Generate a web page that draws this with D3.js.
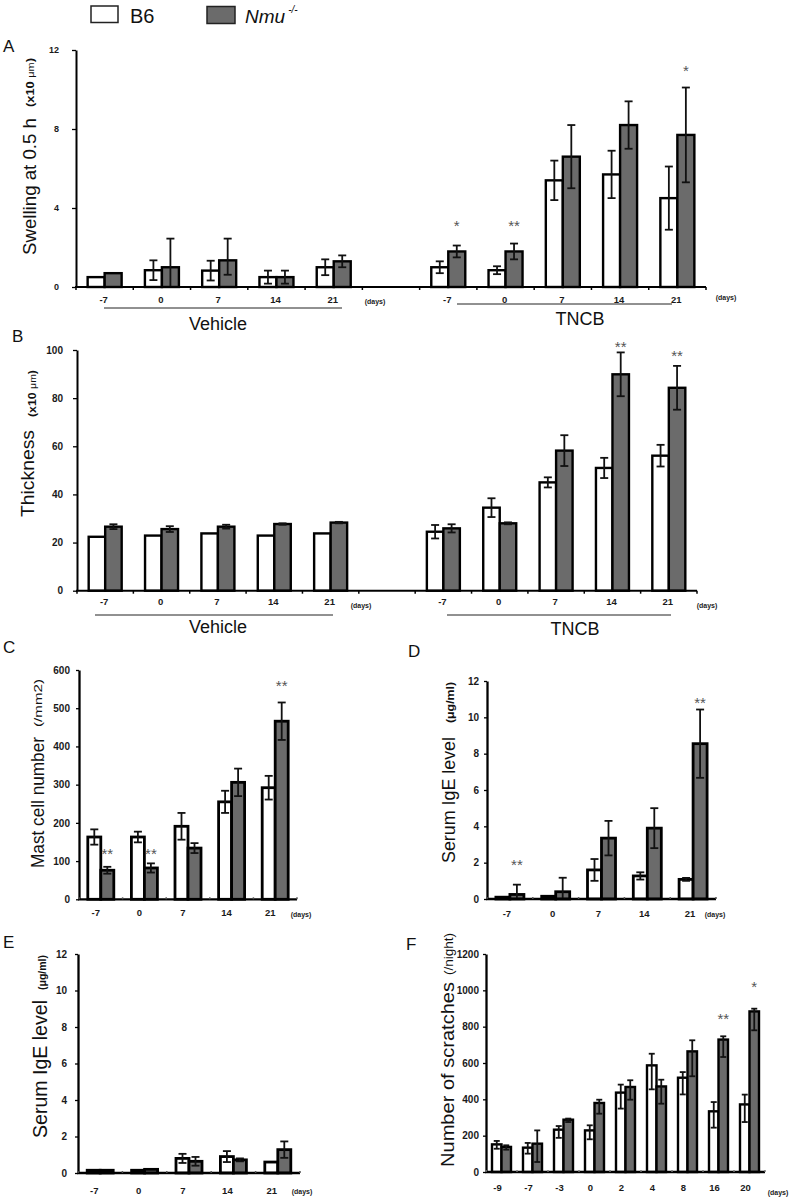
<!DOCTYPE html>
<html><head><meta charset="utf-8">
<script src="https://cdn.jsdelivr.net/npm/d3@7"></script>
<style>
body{margin:0;background:#fff;}
svg{display:block;font-family:"Liberation Sans",Arial,Helvetica,sans-serif;}
</style></head><body>
<svg id="chart" width="799" height="1199"></svg>
<script>
// ---------------- DATA ----------------
const seriesNames = ["B6", "Nmu"];
const daysAB = ["-7", "0", "7", "14", "21"];
const groupsAB = ["Vehicle", "TNCB"];
const daysCDE = ["-7", "0", "7", "14", "21"];
const daysF = ["-9", "-7", "-3", "0", "2", "4", "8", "16", "20"];

// A: swelling at 0.5 h (x10 um); first 5 = Vehicle, last 5 = TNCB
const swellB6     = [0.5, 0.85, 0.83, 0.5, 1.0,   1.0, 0.85, 5.4, 5.7, 4.5];
const swellB6Err  = [0,   0.5,  0.5,  0.33, 0.4,  0.3, 0.2,  1.0, 1.2, 1.6];
const swellNmu    = [0.7, 1.0,  1.35, 0.5, 1.3,   1.8, 1.8,  6.6, 8.2, 7.7];
const swellNmuErr = [0,   1.45, [0.73, 1.1], 0.33, 0.3,  0.3, 0.4,  1.6, 1.2, 2.4];
const ticksA = [0, 4, 8, 12];
const sigA = [{bar: 5, text: "*", y: 3.26}, {bar: 6, text: "**", y: 3.26}, {bar: 9, text: "*", y: 11.14}];

// B: thickness (x10 um)
const thickB6     = [22.4, 22.9, 23.8, 22.9, 23.8,  24.5, 34.5, 45.0, 51.0, 56.1];
const thickB6Err  = [0,    0,    0,    0,    0,     2.8,  3.9,  2.1,  4.2,  4.5];
const thickNmu    = [26.6, 25.6, 26.6, 27.7, 28.3,  25.9, 28.0, 58.2, 89.9, 84.3];
const thickNmuErr = [1.0,  1.2,  0.8,  0.3,  0.3,   1.7,  0.4,  6.4,  9.1,  9.1];
const ticksB = [0, 20, 40, 60, 80, 100];
const sigB = [{bar: 8, text: "**", y: 102.9}, {bar: 9, text: "**", y: 98.9}];

// C: mast cell number (/mm2)
const mastB6     = [163, 163, 191, 255, 292];
const mastB6Err  = [20, 14, 35, 29, 31];
const mastNmu    = [76, 82, 134, 306, 466];
const mastNmuErr = [9, 12, 13, 36, 49];
const ticksC = [0, 100, 200, 300, 400, 500, 600];
const sigC = [{bar: 0, text: "**", y: 129}, {bar: 1, text: "**", y: 129}, {bar: 4, text: "**", y: 567}];

// D: serum IgE (ug/ml), TNCB
const igeDB6     = [0.1, 0.15, 1.6, 1.27, 1.08];
const igeDB6Err  = [0, 0, 0.6, 0.2, 0.08];
const igeDNmu    = [0.25, 0.4, 3.35, 3.9, 8.55];
const igeDNmuErr = [0.54, 0.77, 0.95, 1.1, 1.88];
const ticksDE = [0, 2, 4, 6, 8, 10, 12];
const sigD = [{bar: 0, text: "**", y: 2.1}, {bar: 4, text: "**", y: 11.0}];

// E: serum IgE (ug/ml), vehicle
const igeEB6     = [0.15, 0.15, 0.8, 0.9, 0.6];
const igeEB6Err  = [0, 0, 0.25, 0.3, 0];
const igeENmu    = [0.15, 0.2, 0.64, 0.72, 1.28];
const igeENmuErr = [0, 0, 0.24, 0.08, 0.45];

// F: number of scratches (/night); errors as [down, up]
const scrB6      = [152, 134, 233, 229, 437, 587, 519, 334, 372];
const scrB6Err   = [[24,19],[33,26],[45,20],[49,28],[88,44],[132,64],[92,31],[90,51],[97,54]];
const scrNmu     = [138, 156, 288, 380, 468, 471, 664, 729, 884];
const scrNmuErr  = [[15,9],[101,73],[13,6],[59,18],[70,37],[95,37],[137,61],[96,18],[104,15]];
const ticksF = [0, 200, 400, 600, 800, 1000, 1200];
const sigF = [{bar: 7, text: "**", y: 864}, {bar: 8, text: "*", y: 1040}];

// ---------------- DRAWING ----------------
const FONT = '"Liberation Sans", Arial, Helvetica, sans-serif';
const GRAY = "#6b6b6b";
const svg = d3.select("#chart");

function bounds(v, e) {
  let lo, hi;
  if (Array.isArray(e)) { lo = v - e[0]; hi = v + e[1]; }
  else { lo = v - e; hi = v + e; }
  return [Math.max(0, lo), hi, lo < 0];
}

function rotText(x, y, len) {
  return svg.append("text").attr("transform", `translate(${x},${y}) rotate(-90)`)
    .attr("fill", "#111").attr("textLength", len).attr("lengthAdjust", "spacingAndGlyphs");
}

function drawPanel(p) {
  const g = svg.append("g");
  const xs = d3.scaleBand().domain(d3.range(p.nSlots)).range([p.x0, p.x1]).padding(0);
  const ys = d3.scaleLinear().domain([0, p.max]).range([p.y0, p.y1]);
  const slots = p.slots || d3.range(p.b6.length);
  const cx = i => xs(slots[i]) + xs.bandwidth() / 2;

  // bars
  const bars = [];
  p.b6.forEach((v, i) => bars.push({i, v, e: p.b6e[i], x: cx(i) - p.barW, fill: "#fff"}));
  p.nmu.forEach((v, i) => bars.push({i, v, e: p.nmue[i], x: cx(i), fill: GRAY}));
  g.selectAll("rect.bar").data(bars).join("rect")
    .attr("class", "bar")
    .attr("x", d => d.x).attr("width", p.barW)
    .attr("y", d => ys(d.v)).attr("height", d => ys(0) - ys(d.v))
    .attr("fill", d => d.fill).attr("stroke", "#000").attr("stroke-width", p.barStroke);

  // error bars
  const cap = p.cap || 4;
  const ew = 1.8;
  bars.filter(d => (Array.isArray(d.e) ? d.e[0] + d.e[1] : d.e) > 0).forEach(d => {
    const [lo, hi, clipped] = bounds(d.v, d.e);
    const x = d.x + p.barW / 2;
    g.append("line").attr("x1", x).attr("x2", x).attr("y1", ys(lo)).attr("y2", ys(hi))
      .attr("stroke", "#111").attr("stroke-width", ew);
    g.append("line").attr("x1", x - cap).attr("x2", x + cap).attr("y1", ys(hi)).attr("y2", ys(hi))
      .attr("stroke", "#111").attr("stroke-width", ew);
    if (!clipped) g.append("line").attr("x1", x - cap).attr("x2", x + cap).attr("y1", ys(lo)).attr("y2", ys(lo))
      .attr("stroke", "#111").attr("stroke-width", ew);
  });

  // y axis
  const ya = g.append("g").attr("transform", `translate(${p.x0},0)`)
    .call(d3.axisLeft(ys).tickValues(p.ticks).tickFormat(d3.format("d"))
      .tickSize(p.tickLen || 4).tickSizeOuter(0).tickPadding(p.tickPad));
  ya.attr("font-family", FONT);
  ya.select(".domain").attr("stroke", "#000").attr("stroke-width", p.axisW);
  ya.selectAll(".tick line").attr("stroke", "#000").attr("stroke-width", 1.3);
  ya.selectAll(".tick text").attr("font-size", p.tickFont).attr("font-weight", "bold").attr("fill", "#1a1a1a");

  // x axis
  g.append("line").attr("x1", p.x0 - 1).attr("x2", p.x1).attr("y1", p.y0).attr("y2", p.y0)
    .attr("stroke", "#000").attr("stroke-width", p.axisW);
  g.selectAll("line.xt").data(d3.range(p.nSlots + 1)).join("line").attr("class", "xt")
    .attr("x1", i => p.x0 + i * xs.step()).attr("x2", i => p.x0 + i * xs.step())
    .attr("y1", p.y0).attr("y2", p.y0 + p.xTick)
    .attr("stroke", p.xTickColor || "#000").attr("stroke-width", 1.5);

  // x labels
  g.selectAll("text.xl").data(p.labels).join("text").attr("class", "xl")
    .attr("x", (d, i) => cx(i) + p.labelOff).attr("y", p.xLabelY)
    .attr("text-anchor", "middle").attr("font-size", p.xFont || 9.5).attr("font-weight", "bold").attr("fill", "#1a1a1a")
    .text(d => d);

  // significance
  g.selectAll("text.sig").data(p.sig).join("text").attr("class", "sig")
    .attr("x", d => cx(d.bar) + p.barW / 2).attr("y", d => ys(d.y)).attr("dy", "0.59em")
    .attr("text-anchor", "middle").attr("font-size", 15).attr("fill", "#555")
    .text(d => d.text);

  // days
  (p.days || []).forEach(d => {
    g.append("text").attr("x", d[0]).attr("y", d[1]).attr("text-anchor", "middle")
      .attr("font-size", 7).attr("font-weight", "bold").attr("fill", "#222").text("(days)");
  });

  // y title: main part and unit part
  const T = p.title;
  rotText(T.x, T.y, T.len).attr("font-size", T.size).text(T.main);
  const u = rotText(T.ux, T.uy, T.ulen);
  T.unit.forEach(part => {
    u.append("tspan").attr("font-size", part.size).attr("font-weight", part.bold ? "bold" : null).text(part.t);
  });

  return {xs, ys, cx};
}

function groupLabels(items) {
  items.forEach(it => {
    svg.append("line").attr("x1", it.x1).attr("x2", it.x2).attr("y1", it.ly).attr("y2", it.ly)
      .attr("stroke", "#222").attr("stroke-width", 1);
    svg.append("text").attr("x", it.tx).attr("y", it.ty).attr("text-anchor", "middle")
      .attr("font-size", 18).attr("fill", "#111").text(it.text);
  });
}

// Legend
svg.append("rect").attr("x", 91).attr("y", 6).attr("width", 27).attr("height", 16.5)
  .attr("fill", "#fff").attr("stroke", "#222").attr("stroke-width", 1.5);
svg.append("text").attr("x", 130).attr("y", 22.5).attr("font-size", 20).attr("fill", "#111").text(seriesNames[0]);
svg.append("rect").attr("x", 207).attr("y", 6.5).attr("width", 28).attr("height", 17)
  .attr("fill", GRAY).attr("stroke", "#222").attr("stroke-width", 1.5);
const lg = svg.append("text").attr("x", 245).attr("y", 23).attr("fill", "#111");
lg.append("tspan").attr("font-size", 19).attr("font-style", "italic").text(seriesNames[1]);
lg.append("tspan").attr("font-size", 10).attr("font-style", "italic").attr("dx", 3).attr("dy", -10).text("-/-");

// Panel letters
[["A", 3, 52], ["B", 12, 342], ["C", 3, 653], ["D", 408, 657], ["E", 3, 948], ["F", 406, 950]].forEach(l => {
  svg.append("text").attr("x", l[1]).attr("y", l[2]).attr("font-size", 17).attr("fill", "#111").text(l[0]);
});

const labelsAB = daysAB.concat(daysAB);
const slotsAB = [0, 1, 2, 3, 4, 6, 7, 8, 9, 10];
const unitX10 = [{t: "(x10 ", size: 10, bold: true}, {t: "μm", size: 8.5}, {t: ")", size: 10, bold: true}];

// Panel A
drawPanel({
  x0: 76, x1: 706, y0: 287, y1: 50, max: 12, nSlots: 11, slots: slotsAB,
  b6: swellB6, b6e: swellB6Err, nmu: swellNmu, nmue: swellNmuErr,
  barW: 17, barStroke: 2.4, axisW: 2, ticks: ticksA, tickPad: 13, tickFont: 9,
  xTick: 3, labels: labelsAB, labelOff: -1, xLabelY: 303, sig: sigA,
  days: [[375, 304], [726, 300]],
  title: {x: 36, y: 255, size: 18.5, len: 137, main: "Swelling at 0.5 h",
          ux: 34, uy: 107, ulen: 49, unit: unitX10}
});
groupLabels([
  {x1: 104, x2: 342, ly: 308, tx: 218, ty: 330, text: groupsAB[0]},
  {x1: 457, x2: 672, ly: 304, tx: 580, ty: 325, text: groupsAB[1]}
]);

// Panel B
drawPanel({
  x0: 77, x1: 697, y0: 590.7, y1: 350, max: 100, nSlots: 11, slots: slotsAB,
  b6: thickB6, b6e: thickB6Err, nmu: thickNmu, nmue: thickNmuErr,
  barW: 16.5, barStroke: 2.4, axisW: 2, ticks: ticksB, tickPad: 10, tickFont: 10,
  xTick: 3, labels: labelsAB, labelOff: -1, xLabelY: 605, sig: sigB,
  days: [[361, 608], [707, 608]],
  title: {x: 33.5, y: 517, size: 19, len: 87, main: "Thickness",
          ux: 36, uy: 417, ulen: 47, unit: unitX10}
});
groupLabels([
  {x1: 95, x2: 333, ly: 615, tx: 218, ty: 633, text: groupsAB[0]},
  {x1: 447, x2: 671, ly: 615, tx: 575, ty: 635, text: groupsAB[1]}
]);

// Panel C
drawPanel({
  x0: 79, x1: 297, y0: 899.3, y1: 670, max: 600, nSlots: 5,
  b6: mastB6, b6e: mastB6Err, nmu: mastNmu, nmue: mastNmuErr,
  barW: 13, barStroke: 2.8, axisW: 2.3, ticks: ticksC, tickPad: 6, tickLen: 3, tickFont: 10,
  xTick: -2, xTickColor: "#555", labels: daysCDE, labelOff: -5, xLabelY: 916, sig: sigC,
  days: [[301, 917]],
  title: {x: 44, y: 868, size: 18, len: 131, main: "Mast cell number",
          ux: 42, uy: 727, ulen: 48, unit: [{t: "(/mm2)", size: 10.5}]}
});

// Panel D
drawPanel({
  x0: 487, x1: 716, y0: 899, y1: 681, max: 12, nSlots: 5,
  b6: igeDB6, b6e: igeDB6Err, nmu: igeDNmu, nmue: igeDNmuErr,
  barW: 14, barStroke: 2.8, axisW: 2.3, ticks: ticksDE, tickPad: 5, tickLen: 3, tickFont: 10,
  xTick: -2, xTickColor: "#555", labels: daysCDE, labelOff: -3, xLabelY: 917, sig: sigD,
  days: [[715, 917]],
  title: {x: 455, y: 863, size: 18, len: 126, main: "Serum IgE level",
          ux: 454, uy: 723, ulen: 41, unit: [{t: "(μg/ml)", size: 10, bold: true}]}
});

// Panel E
drawPanel({
  x0: 78, x1: 300, y0: 1173, y1: 954, max: 12, nSlots: 5,
  b6: igeEB6, b6e: igeEB6Err, nmu: igeENmu, nmue: igeENmuErr,
  barW: 13, barStroke: 2.8, axisW: 2.3, ticks: ticksDE, tickPad: 8, tickLen: 3, tickFont: 10,
  xTick: -2, xTickColor: "#555", labels: daysCDE, labelOff: -6, xLabelY: 1194, sig: [],
  days: [[302, 1194]],
  title: {x: 47, y: 1138, size: 19.5, len: 138, main: "Serum IgE level",
          ux: 46, uy: 990, ulen: 35, unit: [{t: "(μg/ml)", size: 10, bold: true}]}
});

// Panel F
drawPanel({
  x0: 486, x1: 765, y0: 1172, y1: 954, max: 1200, nSlots: 9,
  b6: scrB6, b6e: scrB6Err, nmu: scrNmu, nmue: scrNmuErr,
  barW: 9.5, barStroke: 2.4, axisW: 2.3, ticks: ticksF, tickPad: 4, tickLen: 3, tickFont: 10,
  cap: 3, xTick: -2, xTickColor: "#777", labels: daysF, labelOff: -4, xLabelY: 1191, sig: sigF,
  days: [[778, 1195]],
  title: {x: 454, y: 1167, size: 19, len: 185, main: "Number of scratches",
          ux: 453, uy: 975, ulen: 42, unit: [{t: "(/night)", size: 12.5}]}
});
</script>
</body></html>
